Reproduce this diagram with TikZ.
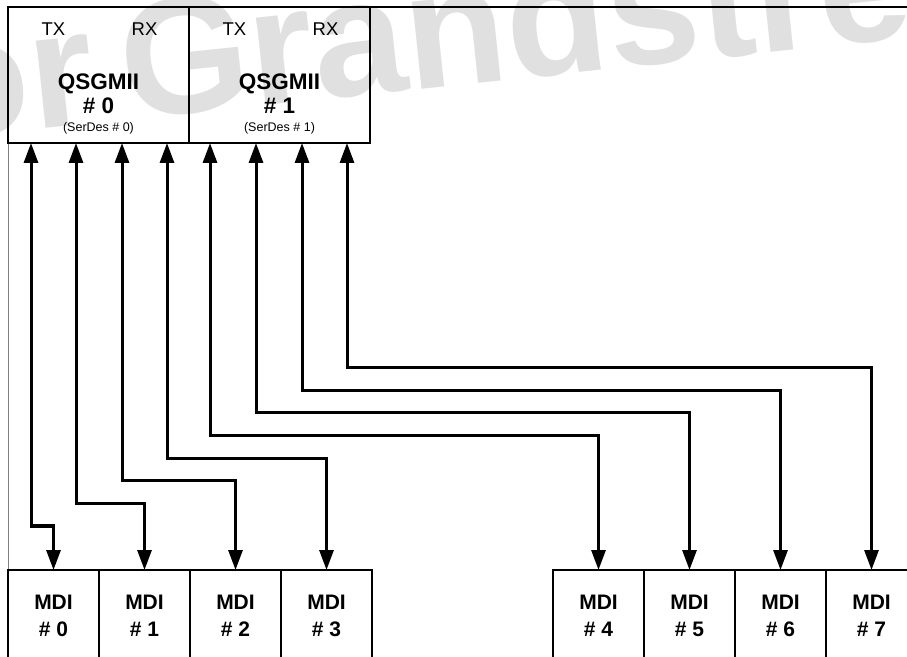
\documentclass[tikz,border=0pt]{standalone}
\usepackage{fontspec}
\setmainfont{Liberation Sans}
\usetikzlibrary{positioning,arrows.meta,calc}
\tikzset{
sbox/.style={
draw,
line width=1.1pt,
minimum width=181pt,
minimum height=136pt,
outer sep=0pt
},
mdi/.style={
draw,
line width=1.1pt,
minimum width=91pt,
minimum height=92pt,
outer sep=0pt,
align=center,
font=\fontsize{21}{27}\selectfont\bfseries
},
port/.style={
inner sep=0pt,
font=\fontsize{18.5}{20}\selectfont
},
qname/.style={
inner sep=0pt,
align=center,
font=\fontsize{22.5}{24}\selectfont\bfseries
},
serdes/.style={
inner sep=0pt,
font=\fontsize{12.5}{14}\selectfont
},
wmark/.style={
inner sep=0pt,
text=black!12,
font=\fontsize{166}{166}\selectfont\bfseries
},
link/.style={
{Triangle[length=20pt,width=14pt]}-{Triangle[length=20pt,width=14pt]},
line width=3pt
}
}
\begin{document}
\begin{tikzpicture}[x=1pt,y=1pt]
\clip (0,0) rectangle (907,656);
% watermark
\node[wmark,anchor=base west,rotate=6](wm) at (-122,510){for\hspace{-18pt} Grandstream};
% outer frame
\draw[line width=1.1pt] (8,649) -- (907,649);
\draw[gray,line width=0.9pt] (8,649) -- (8,0);

\node[sbox,anchor=north west](q0) at (8,649){};
\node[sbox,right=0pt of q0](q1){};
\foreach \q in {0,1}{
\node[serdes,above=9pt of q\q.south](s\q){(SerDes \# \q)};
\node[qname,above=8pt of s\q](n\q){QSGMII\\\# \q};
\node[port] at ($(q\q.north west)+(45.5,-22)$){TX};
\node[port] at ($(q\q.north west)+(136.5,-22)$){RX};
}

\node[mdi,anchor=north west](m0) at (8,86){MDI\\\# 0};
\node[mdi,right=0pt of m0](m1){MDI\\\# 1};
\node[mdi,right=0pt of m1](m2){MDI\\\# 2};
\node[mdi,right=0pt of m2](m3){MDI\\\# 3};
\node[mdi,anchor=north west](m4) at (553,86){MDI\\\# 4};
\node[mdi,right=0pt of m4](m5){MDI\\\# 5};
\node[mdi,right=0pt of m5](m6){MDI\\\# 6};
\node[mdi,right=0pt of m6](m7){MDI\\\# 7};

\foreach \x [count=\i from 0] in {31,76,122,167,210,256,302,347}
\coordinate (t\i) at (\x,513);

\foreach \i in {0,...,7}
\draw[link](t\i) |- ($(m\i.north)+(0,44+22.64*\i)$) -- (m\i.north);
\end{tikzpicture}
\end{document}
